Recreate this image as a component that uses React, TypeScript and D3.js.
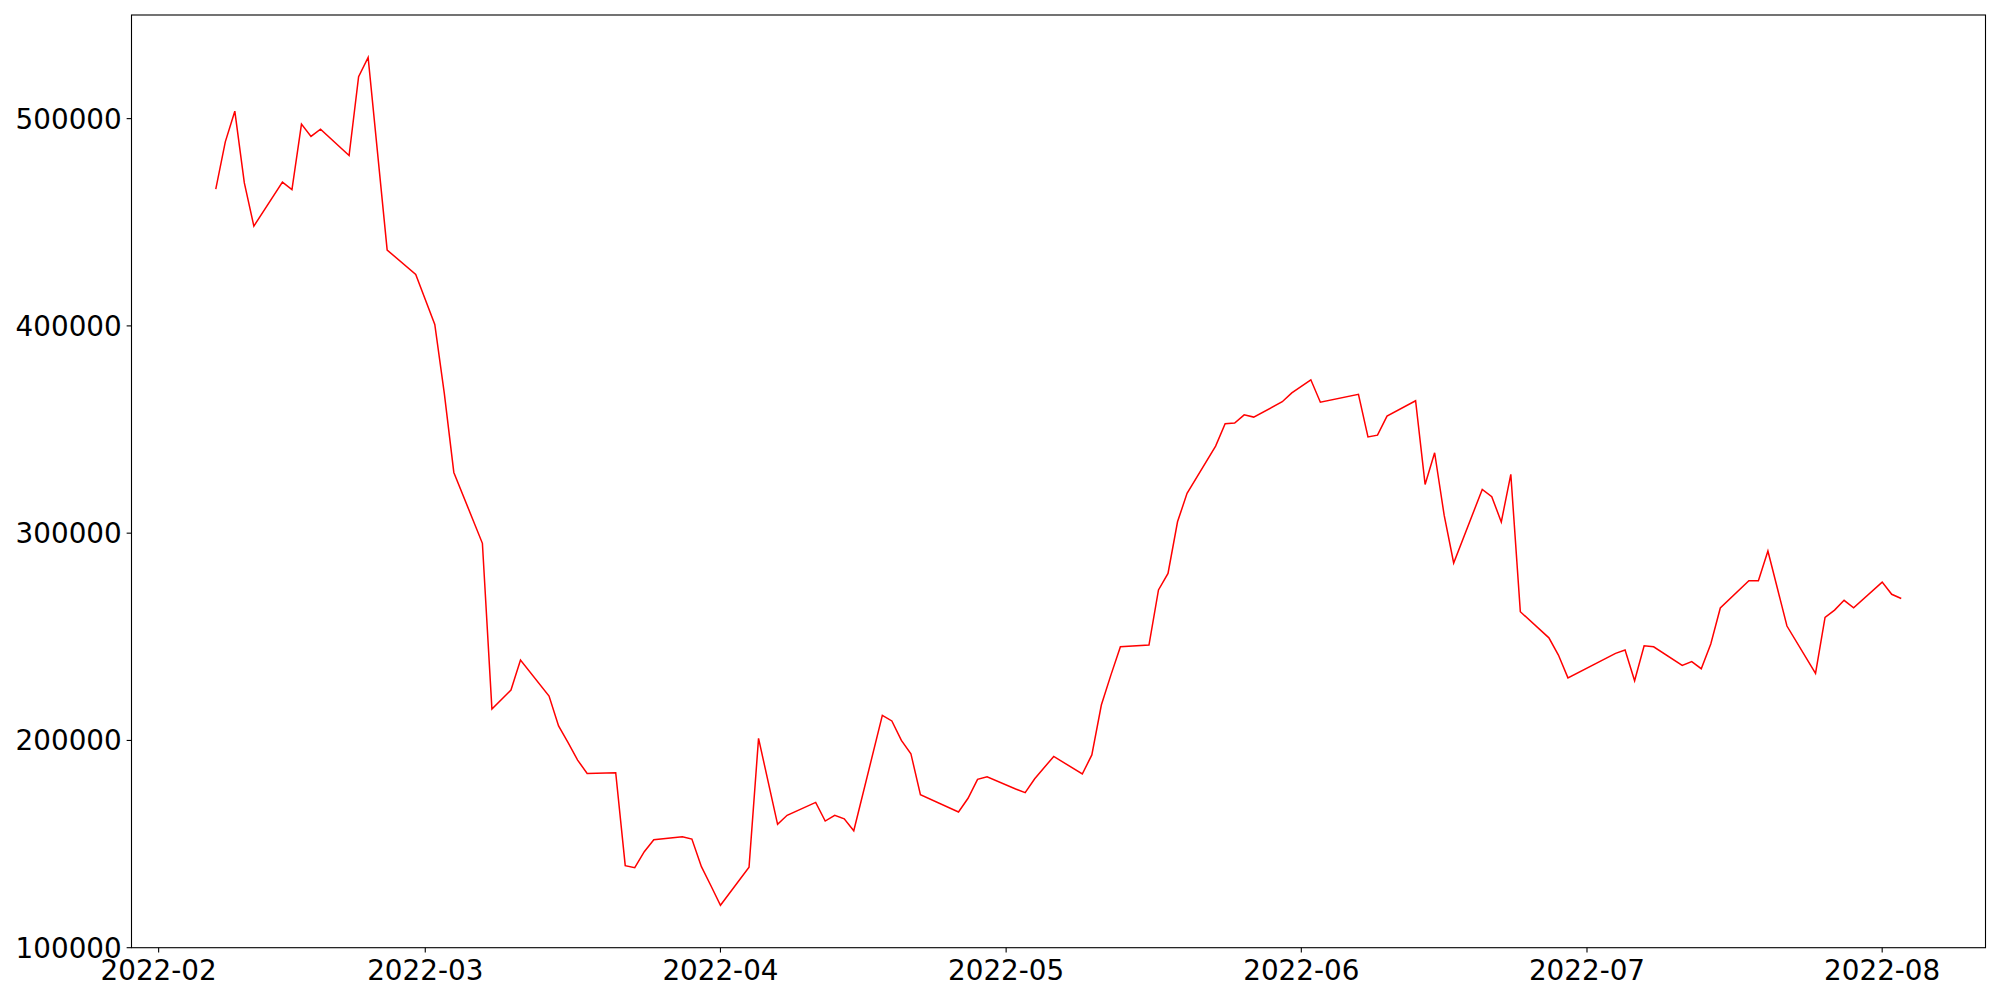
import React from "react";
import * as d3 from "d3";

const dates: string[] = [
  "2022-02-07","2022-02-08","2022-02-09","2022-02-10","2022-02-11",
  "2022-02-14","2022-02-15","2022-02-16","2022-02-17","2022-02-18",
  "2022-02-21","2022-02-22","2022-02-23","2022-02-25",
  "2022-02-28","2022-03-02","2022-03-03","2022-03-04","2022-03-07","2022-03-08","2022-03-10","2022-03-11",
  "2022-03-14","2022-03-15","2022-03-16","2022-03-17","2022-03-18",
  "2022-03-21","2022-03-22","2022-03-23","2022-03-24","2022-03-25",
  "2022-03-28","2022-03-29","2022-03-30","2022-03-31","2022-04-01",
  "2022-04-04","2022-04-05","2022-04-07","2022-04-08",
  "2022-04-11","2022-04-12","2022-04-13","2022-04-14","2022-04-15",
  "2022-04-18","2022-04-19","2022-04-20","2022-04-21","2022-04-22",
  "2022-04-26","2022-04-27","2022-04-28","2022-04-29",
  "2022-05-02","2022-05-03","2022-05-04","2022-05-06",
  "2022-05-09","2022-05-10","2022-05-11","2022-05-12","2022-05-13",
  "2022-05-16","2022-05-17","2022-05-18","2022-05-19","2022-05-20",
  "2022-05-23","2022-05-24","2022-05-25","2022-05-26","2022-05-27",
  "2022-05-30","2022-05-31","2022-06-02","2022-06-03",
  "2022-06-07","2022-06-08","2022-06-09","2022-06-10",
  "2022-06-13","2022-06-14","2022-06-15","2022-06-16","2022-06-17",
  "2022-06-20","2022-06-21","2022-06-22","2022-06-23","2022-06-24",
  "2022-06-27","2022-06-28","2022-06-29",
  "2022-07-04","2022-07-05","2022-07-06","2022-07-07","2022-07-08",
  "2022-07-11","2022-07-12","2022-07-13","2022-07-14","2022-07-15",
  "2022-07-18","2022-07-19","2022-07-20","2022-07-22",
  "2022-07-25","2022-07-26","2022-07-27","2022-07-28","2022-07-29",
  "2022-08-01","2022-08-02","2022-08-03",
];

const values: number[] = [
  466000, 488800, 503600, 469000, 448100,
  469400, 465800, 497400, 491400, 494900,
  482200, 520200, 529500, 436600,
  424800, 400700, 367400, 329300, 295100, 215100, 224300, 238800,
  221400, 207000, 198900, 190500, 184100,
  184400, 139600, 138600, 146300, 152100,
  153500, 152400, 139100, 129900, 120500,
  138800, 201000, 159500, 163900,
  170100, 161100, 163900, 162200, 156400,
  212100, 209400, 200000, 193600, 173800,
  165500, 172100, 181200, 182500,
  176600, 174800, 181500, 192300,
  183800, 193000, 217100, 231500, 245200,
  246000, 272600, 280600, 305500, 319200,
  342000, 352800, 353100, 357100, 356000,
  363400, 367700, 374000, 363200,
  367000, 346400, 347300, 356500,
  363900, 323500, 338800, 308700, 285600,
  321100, 317600, 305400, 328400, 262100,
  249500, 241200, 230200,
  242000, 243600, 228800, 245700, 245200,
  236200, 238000, 234600, 246500, 263900,
  277100, 277100, 291400, 255200,
  232400, 259400, 262900, 267600, 264000,
  276400, 270500, 268500,
];

const xTickLabels: string[] = ["2022-02", "2022-03", "2022-04", "2022-05", "2022-06", "2022-07", "2022-08"];
const yTickValues: number[] = [100000, 200000, 300000, 400000, 500000];
const yDomain: [number, number] = [100000, 550000];

const W = 2000;
const H = 1000;
const left = 131.5;
const right = 1985.5;
const top = 15;
const bottom = 947.7;
const FONT = "DejaVu Sans, sans-serif";

export default function App() {
  const parse = (s: string) => {
    const [y, m, d] = s.split("-").map(Number);
    return new Date(Date.UTC(y, m - 1, d));
  };
  const data = dates.map((d, i) => ({ date: parse(d), value: values[i] }));
  const ext = d3.extent(data, (d) => d.date.getTime()) as [number, number];
  const pad = (ext[1] - ext[0]) * 0.05;
  const x = d3.scaleUtc().domain([new Date(ext[0] - pad), new Date(ext[1] + pad)]).range([left, right]);
  const y = d3.scaleLinear().domain(yDomain).range([bottom, top]);
  const line = d3
    .line<{ date: Date; value: number }>()
    .x((d) => x(d.date))
    .y((d) => y(d.value));
  const tickLen = 4.86;

  return (
    <svg
      width={W}
      height={H}
      style={{ position: "absolute", left: 0, top: 0, background: "#fff" }}
      fontFamily={FONT}
    >
      <rect x={0} y={0} width={W} height={H} fill="#fff" />
      <path d={line(data) || ""} fill="none" stroke="#ff0000" strokeWidth={1.5} strokeLinejoin="miter" />
      <rect x={left} y={top} width={right - left} height={bottom - top} fill="none" stroke="#000" strokeWidth={1.1} />
      {yTickValues.map((v) => (
        <g key={v}>
          <line x1={left - tickLen} x2={left} y1={y(v)} y2={y(v)} stroke="#000" strokeWidth={1.1} />
          <text x={left - tickLen - 4.9} y={y(v) + 10} textAnchor="end" fontSize={27.8} fill="#000">
            {v}
          </text>
        </g>
      ))}
      {xTickLabels.map((t) => {
        const xd = x(parse(t + "-01"));
        return (
          <g key={t}>
            <line x1={xd} x2={xd} y1={bottom} y2={bottom + tickLen} stroke="#000" strokeWidth={1.1} />
            <text x={xd} y={980} textAnchor="middle" fontSize={27.8} fill="#000">
              {t}
            </text>
          </g>
        );
      })}
    </svg>
  );
}
